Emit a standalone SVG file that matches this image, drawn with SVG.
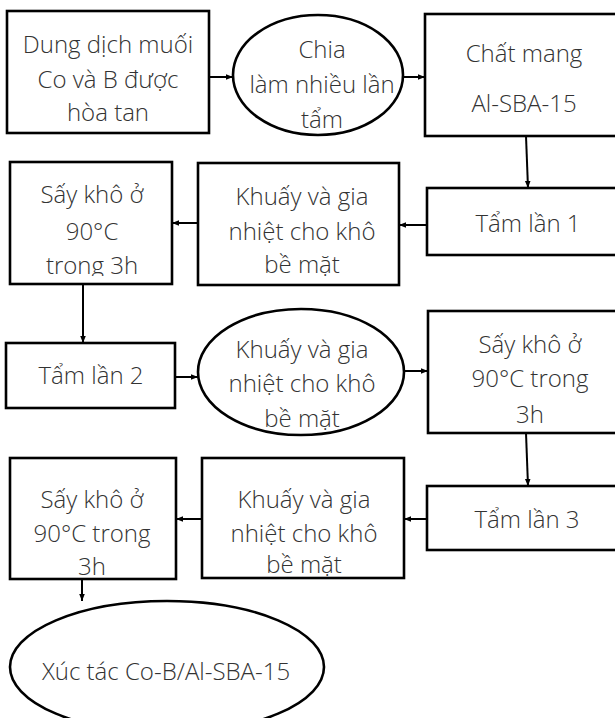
<svg xmlns="http://www.w3.org/2000/svg" width="615" height="718" viewBox="0 0 615 718">
<style>
.n{fill:#fff;stroke:#000;stroke-width:2.6}
.t{font-family:"Open Sans","Liberation Sans",sans-serif;font-weight:300;font-size:24px;fill:#333;text-anchor:middle}
.c{stroke:#000;stroke-width:2;fill:none;marker-end:url(#ah)}
</style>
<defs>
<marker id="ah" markerUnits="userSpaceOnUse" markerWidth="8" markerHeight="8" refX="7" refY="4" orient="auto">
<path d="M0,1.2 L7,4 L0,6.8 Z" fill="#000"/>
</marker>
<clipPath id="clipS1"><rect x="10" y="162" width="162" height="114"/></clipPath>
<clipPath id="clipK3"><rect x="202" y="458" width="202" height="118"/></clipPath>
</defs>
<g id="n1"><rect class="n" x="7" y="11" width="202" height="122"/>
<text class="t" x="108" y="53">Dung dịch muối</text><text class="t" x="108" y="88">Co và B được</text><text class="t" x="108" y="121">hòa tan</text></g>
<g id="n2"><ellipse class="n" cx="318" cy="75" rx="85" ry="60"/>
<text class="t" x="322" y="58">Chia</text><text class="t" x="322" y="93">làm nhiều lần</text><text class="t" x="322" y="128">tẩm</text></g>
<g id="n3"><rect class="n" x="425" y="14" width="200" height="122"/>
<text class="t" x="524" y="62">Chất mang</text><text class="t" x="524" y="112">Al-SBA-15</text></g>
<g id="n4"><rect class="n" x="427" y="188" width="200" height="67"/>
<text class="t" x="528" y="232">Tẩm lần 1</text></g>
<g id="n5"><rect class="n" x="198" y="163" width="201" height="122"/>
<text class="t" x="302" y="205">Khuấy và gia</text><text class="t" x="302" y="240">nhiệt cho khô</text><text class="t" x="302" y="273">bề mặt</text></g>
<g id="n6"><rect class="n" x="10" y="162" width="162" height="122"/>
<g clip-path="url(#clipS1)"><text class="t" x="92" y="203">Sấy khô ở</text><text class="t" x="92" y="240">90°C</text><text class="t" x="92" y="274">trong 3h</text></g></g>
<g id="n7"><rect class="n" x="6" y="343" width="169" height="65"/>
<text class="t" x="91" y="384">Tẩm lần 2</text></g>
<g id="n8"><ellipse class="n" cx="301" cy="372" rx="103" ry="63"/>
<text class="t" x="302" y="358">Khuấy và gia</text><text class="t" x="302" y="392">nhiệt cho khô</text><text class="t" x="302" y="427">bề mặt</text></g>
<g id="n9"><rect class="n" x="428" y="311" width="200" height="122"/>
<text class="t" x="530" y="353">Sấy khô ở</text><text class="t" x="530" y="387">90°C trong</text><text class="t" x="530" y="423">3h</text></g>
<g id="n10"><rect class="n" x="427" y="486" width="200" height="64"/>
<text class="t" x="527" y="528">Tẩm lần 3</text></g>
<g id="n11"><rect class="n" x="202" y="458" width="202" height="120"/>
<g clip-path="url(#clipK3)"><text class="t" x="304" y="508">Khuấy và gia</text><text class="t" x="304" y="542">nhiệt cho khô</text><text class="t" x="304" y="573">bề mặt</text></g></g>
<g id="n12"><rect class="n" x="10" y="458" width="166" height="121"/>
<text class="t" x="92" y="508">Sấy khô ở</text><text class="t" x="92" y="542">90°C trong</text><text class="t" x="92" y="575">3h</text></g>
<g id="n13"><ellipse class="n" cx="167" cy="667" rx="157" ry="66"/>
<text class="t" x="166" y="680">Xúc tác Co-B/Al-SBA-15</text></g>
<g id="connectors">
<path class="c" d="M209,77 H233"/>
<path class="c" d="M403,77 H425"/>
<path class="c" d="M526,136 L528,188"/>
<path class="c" d="M427,225 H399"/>
<path class="c" d="M198,223 H172"/>
<path class="c" d="M83,284 V343"/>
<path class="c" d="M175,377 H198"/>
<path class="c" d="M404,371 H428"/>
<path class="c" d="M526,433 L528,486"/>
<path class="c" d="M427,519 H404"/>
<path class="c" d="M202,519 H176"/>
<path class="c" d="M82,579 V601"/>
</g>
</svg>
